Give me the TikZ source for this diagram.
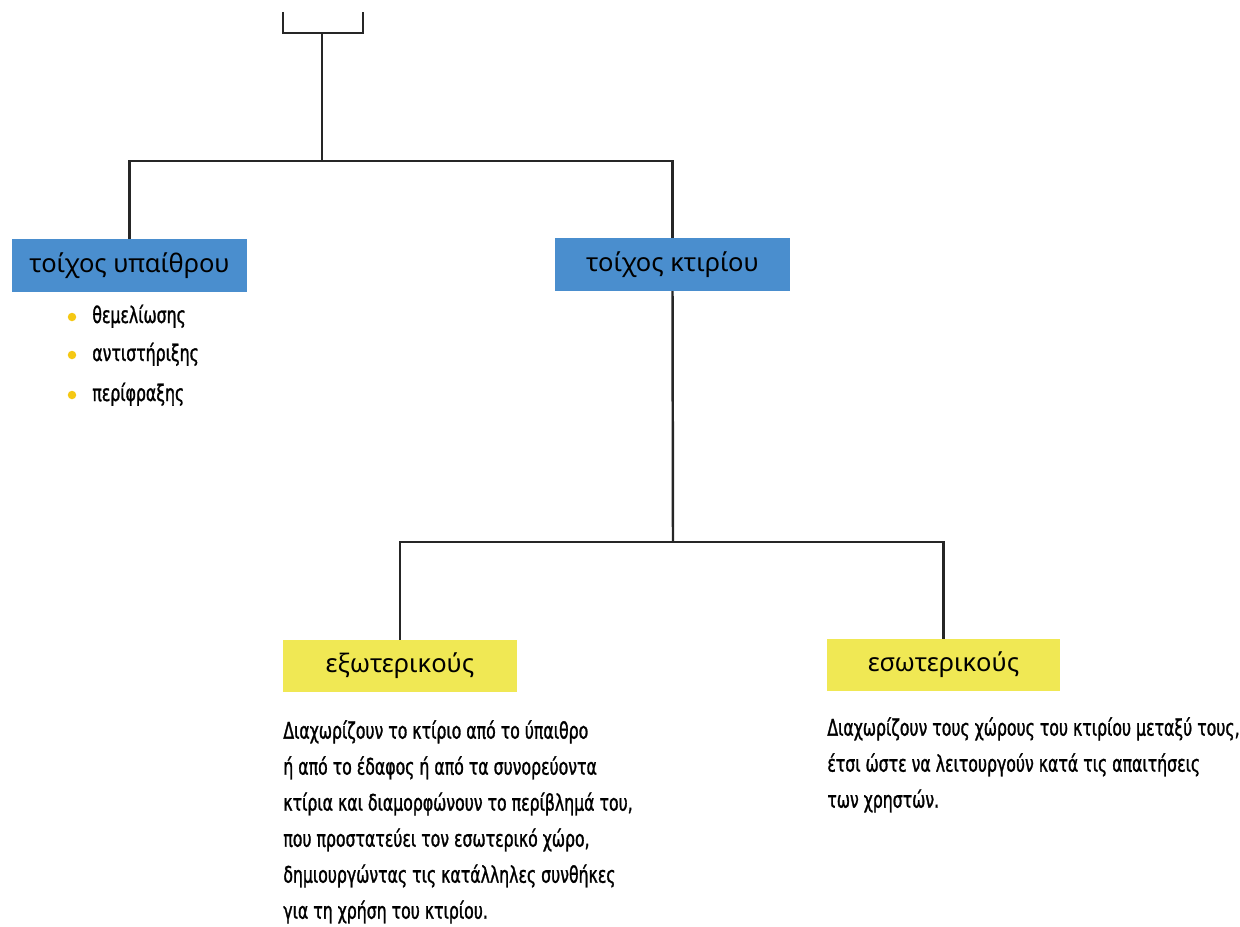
\documentclass[tikz,border=0pt]{standalone}
\usepackage{fontspec}
\setmainfont{Noto Sans}
\newfontfamily\condfont[FakeStretch=0.765,FakeBold=1.2]{DejaVu Sans Condensed}
\usetikzlibrary{calc}
\definecolor{wallblue}{RGB}{74,142,206}
\definecolor{kindyellow}{RGB}{240,232,84}
\definecolor{dotyellow}{RGB}{245,200,20}

\begin{document}
\begin{tikzpicture}[x=0.02cm,y=-0.02cm,
  conn/.style={line width=1.4pt, black!85},
  wallbox/.style={fill=wallblue, minimum width=4.7cm, minimum height=1.05cm,
    inner sep=0pt, font=\fontsize{14.5}{16}\selectfont},
  kindbox/.style={fill=kindyellow, minimum width=4.68cm, minimum height=1.04cm,
    inner sep=0pt, font=\fontsize{14.5}{16}\selectfont},
  bulletdot/.style={circle, fill=dotyellow, minimum size=0.17cm, inner sep=0pt},
  itemtext/.style={anchor=base west, inner sep=0pt, font=\condfont\fontsize{13}{14}\selectfont},
  bodytext/.style={anchor=north west, align=left, inner sep=0pt,
    font=\condfont\fontsize{13}{20.5}\selectfont}]
  \useasboundingbox (0,0) rectangle (1240,926);

  % top bracket
  \coordinate (root) at (322,33);
  \draw[conn] (283,12) -- (283,33) -- (363,33) -- (363,12);

  % walls
  \node[wallbox] (ypaithrou) at (129.5,265.5) {τοίχος υπαίθρου};
  \node[wallbox] (ktiriou) at (672.5,264.5) {τοίχος κτιρίου};
  \coordinate (split) at (322,161);
  \draw[conn] (root) -- (split);
  \draw[conn] (ypaithrou.north) -- (ypaithrou.north |- split)
    -- (ktiriou.north |- split) -- (ktiriou.north);

  \node[bulletdot] (b1) at (72,317) {};
  \node[bulletdot] (b2) at (72,355) {};
  \node[bulletdot] (b3) at (72,395) {};
  \node[itemtext] (t1) at (92,323) {θεμελίωσης};
  \node[itemtext] (t2) at (92,361) {αντιστήριξης};
  \node[itemtext] (t3) at (92,401) {περίφραξης};

  % building walls
  \node[kindbox] (ekso) at (400,666) {εξωτερικούς};
  \node[kindbox] (eso) at (943.5,665) {εσωτερικούς};
  \coordinate (split2) at (673,542);
  \draw[conn] (ktiriou.south) -- (split2);
  \draw[conn] (ekso.north) -- (ekso.north |- split2)
    -- (eso.north |- split2) -- (eso.north);

  \node[bodytext] (eksotext) at (283,720) {Διαχωρίζουν το κτίριο από το ύπαιθρο\\
    ή από το έδαφος ή από τα συνορεύοντα\\
    κτίρια και διαμορφώνουν το περίβλημά του,\\
    που προστατεύει τον εσωτερικό χώρο,\\
    δημιουργώντας τις κατάλληλες συνθήκες\\
    για τη χρήση του κτιρίου.};
  \node[bodytext] (esotext) at (827,717) {Διαχωρίζουν τους χώρους του κτιρίου μεταξύ τους,\\
    έτσι ώστε να λειτουργούν κατά τις απαιτήσεις\\
    των χρηστών.};
\end{tikzpicture}
\end{document}
